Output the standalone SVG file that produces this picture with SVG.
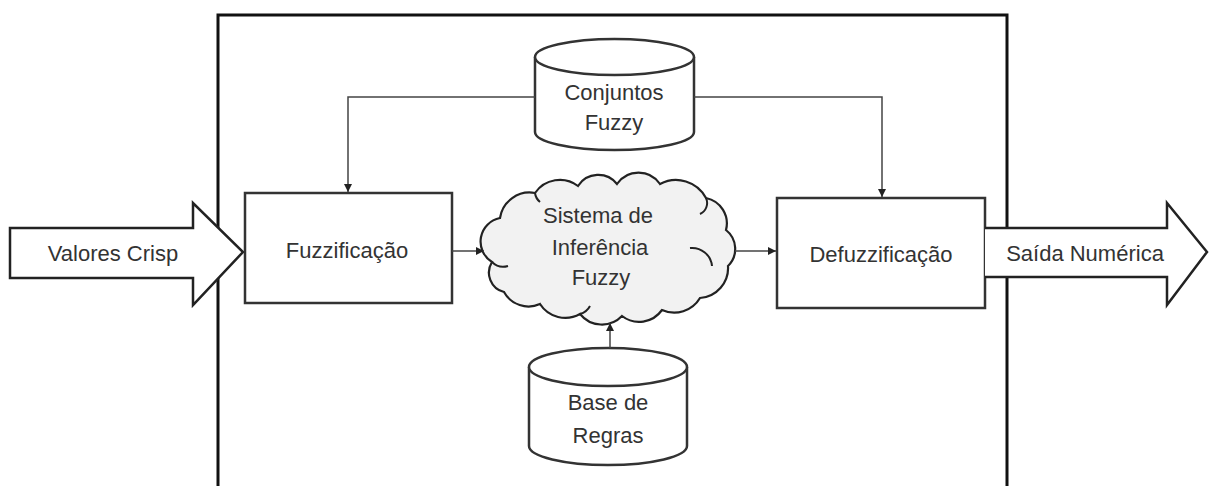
<svg xmlns="http://www.w3.org/2000/svg" width="1209" height="486" viewBox="0 0 1209 486">
<style>
text{font-family:"Liberation Sans",Arial,sans-serif;font-size:22px;fill:#333;text-anchor:middle;dominant-baseline:central}
.box{fill:#fff;stroke:#333;stroke-width:2.5}
.conn{fill:none;stroke:#444;stroke-width:1.5}
.big{fill:#fff;stroke:#222;stroke-width:2.5;stroke-linejoin:miter}
</style>
<defs>
<marker id="ah" viewBox="0 0 10 10" refX="10" refY="5" markerWidth="8" markerHeight="8" markerUnits="userSpaceOnUse" orient="auto">
<path d="M0,0 L10,5 L0,10 Z" fill="#222"/>
</marker>
</defs>
<rect width="1209" height="486" fill="#fff"/>
<g id="frame">
<path d="M218,490 V15 H1007 V490" fill="none" stroke="#111" stroke-width="3"/>
</g>
<g id="valores-crisp">
<path class="big" d="M10,228 H193 V203 L243,252 L193,305 V278 H10 Z"/>
<text x="113" y="253">Valores Crisp</text>
</g>
<g id="fuzzificacao">
<rect class="box" x="245" y="193" width="207" height="110"/>
<text x="347" y="250">Fuzzificação</text>
</g>
<g id="conjuntos-fuzzy">
<path class="box" d="M535,57 V132 A79.5,18 0 0 0 694,132 V57"/>
<ellipse class="box" cx="614.5" cy="57" rx="79.5" ry="18"/>
<text x="614" y="92">Conjuntos</text>
<text x="614" y="122">Fuzzy</text>
</g>
<g id="sistema-inferencia">
<path d="M492,262 A24,24 0 0 1 500,218 A30,30 0 0 1 535,193 A30,30 0 0 1 578,186 A24,24 0 0 1 617,184 A26,26 0 0 1 660,184 A34,34 0 0 1 706,198 A26,26 0 0 1 726,230 A24,24 0 0 1 728,266 A30,30 0 0 1 700,298 A30,30 0 0 1 662,310 A28,28 0 0 1 622,316 A28,28 0 0 1 580,314 A30,30 0 0 1 540,304 A28,28 0 0 1 504,292 A20,20 0 0 1 492,262 Z" fill="#f2f2f2" stroke="#222" stroke-width="2.2"/>
<path d="M492,262 A16,16 0 0 0 508,266 M706,198 A12,12 0 0 1 700,214 M690,248 A20,20 0 0 1 712,266 M580,314 A16,16 0 0 0 590,306 M535,193 A14,14 0 0 0 540,202" fill="none" stroke="#222" stroke-width="2"/>
<text x="598" y="215">Sistema de</text>
<text x="600" y="247">Inferência</text>
<text x="601" y="277">Fuzzy</text>
</g>
<g id="base-regras">
<path class="box" d="M529,367 V446 A79,19 0 0 0 687,446 V367"/>
<ellipse class="box" cx="608" cy="367" rx="79" ry="19"/>
<text x="608" y="402">Base de</text>
<text x="608" y="435">Regras</text>
</g>
<g id="defuzzificacao">
<rect class="box" x="777" y="198" width="208" height="110"/>
<text x="881" y="254">Defuzzificação</text>
</g>
<g id="saida-numerica">
<path class="big" d="M985,228 H1167 V203 L1207,252 L1167,305 V277 H985"/>
<text x="1085" y="253">Saída Numérica</text>
</g>
<g id="connectors">
<path class="conn" d="M535,97 H348 V192" marker-end="url(#ah)"/>
<path class="conn" d="M694,97 H882 V197" marker-end="url(#ah)"/>
<path class="conn" d="M452,251 H484" marker-end="url(#ah)"/>
<path class="conn" d="M735,251 H776" marker-end="url(#ah)"/>
<path class="conn" d="M610,348 V323" marker-end="url(#ah)"/>
</g>
</svg>
